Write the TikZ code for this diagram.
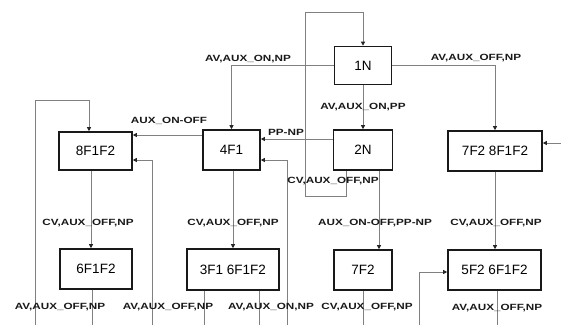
\documentclass[tikz,border=0pt]{standalone}
\usepackage{fontspec}
\setmainfont{Liberation Sans}
\newfontfamily\lblfont[FakeStretch=1.3]{Liberation Sans}
\usetikzlibrary{arrows.meta}
\tikzset{
  box/.style={draw=black!90, line width=1.6pt, fill=white, minimum height=40pt, inner sep=0pt,
              font=\fontsize{13.5}{14}\selectfont},
  conn/.style={draw=black!50, line width=0.8pt},
  arr/.style={conn, -{Triangle[length=4pt,width=4pt,color=black!85]}},
  lbl/.style={inner sep=0pt, font=\lblfont\bfseries\fontsize{9}{10}\selectfont, text=black!90}
}
\begin{document}
\begin{tikzpicture}[x=1pt,y=-1pt]
\useasboundingbox (0,0) rectangle (561,325);
% boxes
\node[box, minimum width=57pt, minimum height=38pt] (n1N) at (363,65.5) {1N};
\node[box, minimum width=59pt] (n2N) at (363,150) {2N};
\node[box, minimum width=57pt] (n4F1) at (231.5,150) {4F1};
\node[box, minimum width=73pt, minimum height=38pt] (n8) at (95.5,151) {8F1F2};
\node[box, minimum width=94pt] (n78) at (495,151) {7F2 8F1F2};
\node[box, minimum width=72pt] (n6) at (96,269) {6F1F2};
\node[box, minimum width=92pt, minimum height=41pt] (n36) at (233,269.5) {3F1 6F1F2};
\node[box, minimum width=58pt] (n7) at (363,270) {7F2};
\node[box, minimum width=93pt] (n56) at (494.5,270) {5F2 6F1F2};
% free ends
\coordinate (e35) at (35,325);
\coordinate (e92) at (92,325);
\coordinate (e152) at (152,325);
\coordinate (e203) at (204,325);
\coordinate (e259) at (259,325);
\coordinate (e287) at (287,325);
\coordinate (e363) at (363,325);
\coordinate (e419) at (419,325);
\coordinate (e496) at (497,325);
\coordinate (eR) at (561,143);
\coordinate (tl) at (305,12);
% connectors
\draw[arr] (n1N.west) -| (n4F1.north);
\draw[arr] (n1N.east) -| (n78.north);
\draw[arr] (n1N.south) -- (n2N.north);
\draw[arr] (n2N.south -| 346,0) -- (346,196) -- (305,196) -- (tl) -| (n1N.north);
\draw[arr] (n2N.west |- 0,139) -- (n4F1.east |- 0,139);
\draw[arr] (e287) |- (n4F1.east |- 0,160);
\draw[arr] (n4F1.west |- 0,135) -- (n8.east |- 0,135);
\draw[arr] (e35) -- (35,100) -| (n8.north -| 89,0);
\draw[arr] (e152) |- (n8.east |- 0,160);
\draw[arr] (n8.south -| 91,0) -- (n6.north -| 91,0);
\draw[conn] (n6.south -| 92,0) -- (e92);
\draw[arr] (n4F1.south -| 233,0) -- (n36.north);
\draw[conn] (n36.south -| 204,0) -- (e203);
\draw[conn] (n36.south -| 259,0) -- (e259);
\draw[arr] (n2N.south -| 379,0) -- (n7.north -| 379,0);
\draw[conn] (n7.south) -- (e363);
\draw[arr] (n78.south -| 495,0) -- (n56.north -| 495,0);
\draw[conn] (n56.south -| 497,0) -- (e496);
\draw[arr] (e419) |- (n56.west |- 0,272);
\draw[arr] (eR) -- (n78.east |- 0,143);
% labels
\node[lbl] (l1) at (248,59) {AV,AUX\_ON,NP};
\node[lbl] (l2) at (476,58) {AV,AUX\_OFF,NP};
\node[lbl] (l3) at (363,107) {AV,AUX\_ON,PP};
\node[lbl] (l4) at (169,121) {AUX\_ON-OFF};
\node[lbl] (l5) at (286,132) {PP-NP};
\node[lbl] (l6) at (333,181) {CV,AUX\_OFF,NP};
\node[lbl] (l7) at (88,223) {CV,AUX\_OFF,NP};
\node[lbl] (l8) at (233,223) {CV,AUX\_OFF,NP};
\node[lbl] (l9) at (375,223) {AUX\_ON-OFF,PP-NP};
\node[lbl] (l10) at (496,223) {CV,AUX\_OFF,NP};
\node[lbl] (l11) at (60,307) {AV,AUX\_OFF,NP};
\node[lbl] (l12) at (168,307) {AV,AUX\_OFF,NP};
\node[lbl] (l13) at (271,307) {AV,AUX\_ON,NP};
\node[lbl] (l14) at (367,307) {CV,AUX\_OFF,NP};
\node[lbl] (l15) at (497,308) {AV,AUX\_OFF,NP};
\end{tikzpicture}
\end{document}
